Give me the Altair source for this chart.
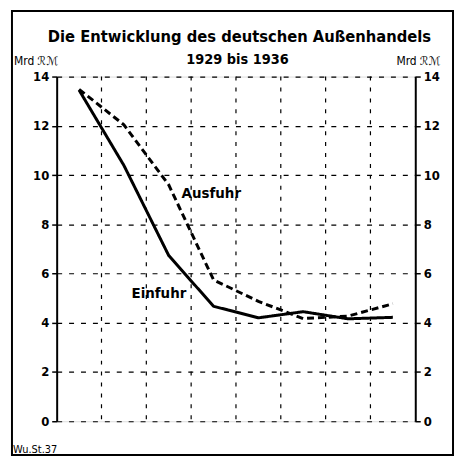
import altair as alt
import pandas as pd

years = [1929, 1930, 1931, 1932, 1933, 1934, 1935, 1936]
einfuhr = [13.45, 10.39, 6.73, 4.67, 4.20, 4.45, 4.16, 4.22]
ausfuhr = [13.48, 12.04, 9.60, 5.74, 4.87, 4.17, 4.27, 4.77]
y_ticks = [0, 2, 4, 6, 8, 10, 12, 14]
grid_years = [1929.5, 1930.5, 1931.5, 1932.5, 1933.5, 1934.5, 1935.5]
series_names = ["Ausfuhr", "Einfuhr"]
label_x = [1931.95, 1930.78]
label_y = [9.25, 5.2]

title_text = "Die Entwicklung des deutschen Außenhandels"
subtitle_text = "1929 bis 1936"
unit_text = "Mrd ℛℳ"
source_text = "Wu.St.37"

W, H = 361, 347
FONT = "DejaVu Sans Condensed"

df = pd.DataFrame({
    "Jahr": years * 2,
    "Wert": einfuhr + ausfuhr,
    "Reihe": ["Einfuhr"] * len(years) + ["Ausfuhr"] * len(years),
})
lab_df = pd.DataFrame({"t": series_names, "lx": label_x, "ly": label_y})
grid_df = pd.DataFrame({"g": grid_years})
one = pd.DataFrame({"a": [0]})

xscale = alt.Scale(domain=[1928.5, 1936.5], nice=False, zero=False)
yscale = alt.Scale(domain=[0, 14], nice=False)

x_axis = alt.Axis(
    values=years,
    labelExpr="datum.value == 1929 ? '1929' : substring(toString(datum.value), 2, 4)",
    grid=False, ticks=False, domain=True, domainColor="black", domainWidth=2,
    title=None, labelFont=FONT, labelFontWeight="bold", labelFontSize=15,
    labelPadding=5, labelColor="black",
)

def y_axis(orient):
    return alt.Axis(
        orient=orient, values=y_ticks, grid=(orient == "left"),
        gridDash=[5, 7], gridColor="black", gridWidth=1.2, gridOpacity=1,
        tickColor="black", tickSize=5, tickWidth=1.5,
        domainColor="black", domainWidth=2,
        labelFont=FONT, labelFontWeight="bold", labelFontSize=13, labelColor="black",
        labelPadding=3, title=None,
    )

lines = alt.Chart(df).mark_line(color="black", strokeWidth=3).encode(
    x=alt.X("Jahr:Q", scale=xscale, axis=x_axis),
    y=alt.Y("Wert:Q", scale=yscale, axis=y_axis("left")),
    strokeDash=alt.StrokeDash("Reihe:N", scale=alt.Scale(domain=["Einfuhr", "Ausfuhr"], range=[[1, 0], [7, 4]]), legend=None),
    detail="Reihe:N",
)

right = alt.Chart(df).mark_line(opacity=0).encode(
    x=alt.X("Jahr:Q", scale=xscale, axis=None),
    y=alt.Y("Wert:Q", scale=yscale, axis=y_axis("right")),
)

vgrid = alt.Chart(grid_df).mark_rule(color="black", strokeDash=[4, 7], strokeWidth=1.2).encode(
    x=alt.X("g:Q", scale=xscale, axis=None),
)

labels = alt.Chart(lab_df).mark_text(font=FONT, fontWeight="bold", fontSize=15, color="black").encode(
    x=alt.X("lx:Q", scale=xscale, axis=None),
    y=alt.Y("ly:Q", scale=yscale, axis=None),
    text="t:N",
)

frame = alt.Chart(one).mark_rect(fill="transparent", stroke="black", strokeWidth=2).encode(
    x=alt.value(-45), x2=alt.value(399), y=alt.value(-66), y2=alt.value(381),
)

def txt(text, x, y, size, weight="normal", align="left"):
    return alt.Chart(one).mark_text(
        font=FONT, fontSize=size, fontWeight=weight, align=align,
        baseline="alphabetic", color="black",
    ).encode(x=alt.value(x), y=alt.value(y), text=alt.value(text))

title = txt(title_text, 184, -35, 16.5, "bold", "center")
subtitle = txt(subtitle_text, 182, -13, 14.5, "bold", "center")
unit_left = txt(unit_text, -43, -12, 12)
unit_right = txt(unit_text, 342, -12, 12)
footer = txt(source_text, -44, 379, 11)

chart = alt.layer(
    vgrid, lines, right, labels, frame, title, subtitle, unit_left, unit_right, footer
).resolve_scale(y="independent").properties(
    width=W, height=H,
    autosize=alt.AutoSizeParams(type="none"),
    padding={"left": 49, "top": 67.5, "right": 40, "bottom": 36},
).configure_view(stroke="black", strokeWidth=2).configure(background="white")

chart.save("out.html", embed_options={"renderer": "svg", "actions": False})
